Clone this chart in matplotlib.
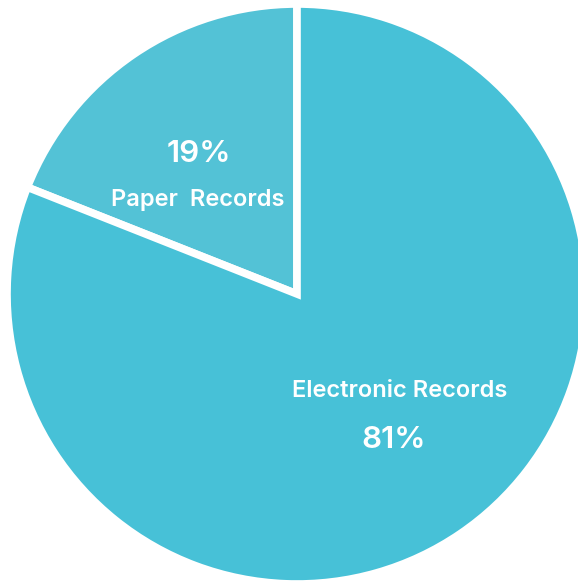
import matplotlib
matplotlib.use("Agg")
import matplotlib.pyplot as plt

categories = ["Paper Records", "Electronic Records"]
shares = [19, 81]
colors = ["#53C2D6", "#47C1D7"]

fig = plt.figure(figsize=(5.78, 5.81), dpi=100)
ax = fig.add_axes([0, 0, 1, 1])

ax.pie(shares, colors=colors, startangle=90, counterclock=True,
       center=(297, 287), radius=290,
       wedgeprops=dict(edgecolor="white", linewidth=5.5))
ax.set_xlim(0, 578)
ax.set_ylim(0, 581)
ax.set_aspect("equal")
ax.axis("off")

font = dict(family="Inter", weight="semibold", color="white", ha="center", va="center")
ax.text(199, 581 - 154, f"{shares[0]}%", fontsize=22.5, **font)
ax.text(198, 581 - 200, "Paper  Records", fontsize=17, **font)
ax.text(400, 581 - 391, categories[1], fontsize=17, **font)
ax.text(394, 581 - 440, f"{shares[1]}%", fontsize=22.5, **font)

fig.savefig("out.png", dpi=100)
